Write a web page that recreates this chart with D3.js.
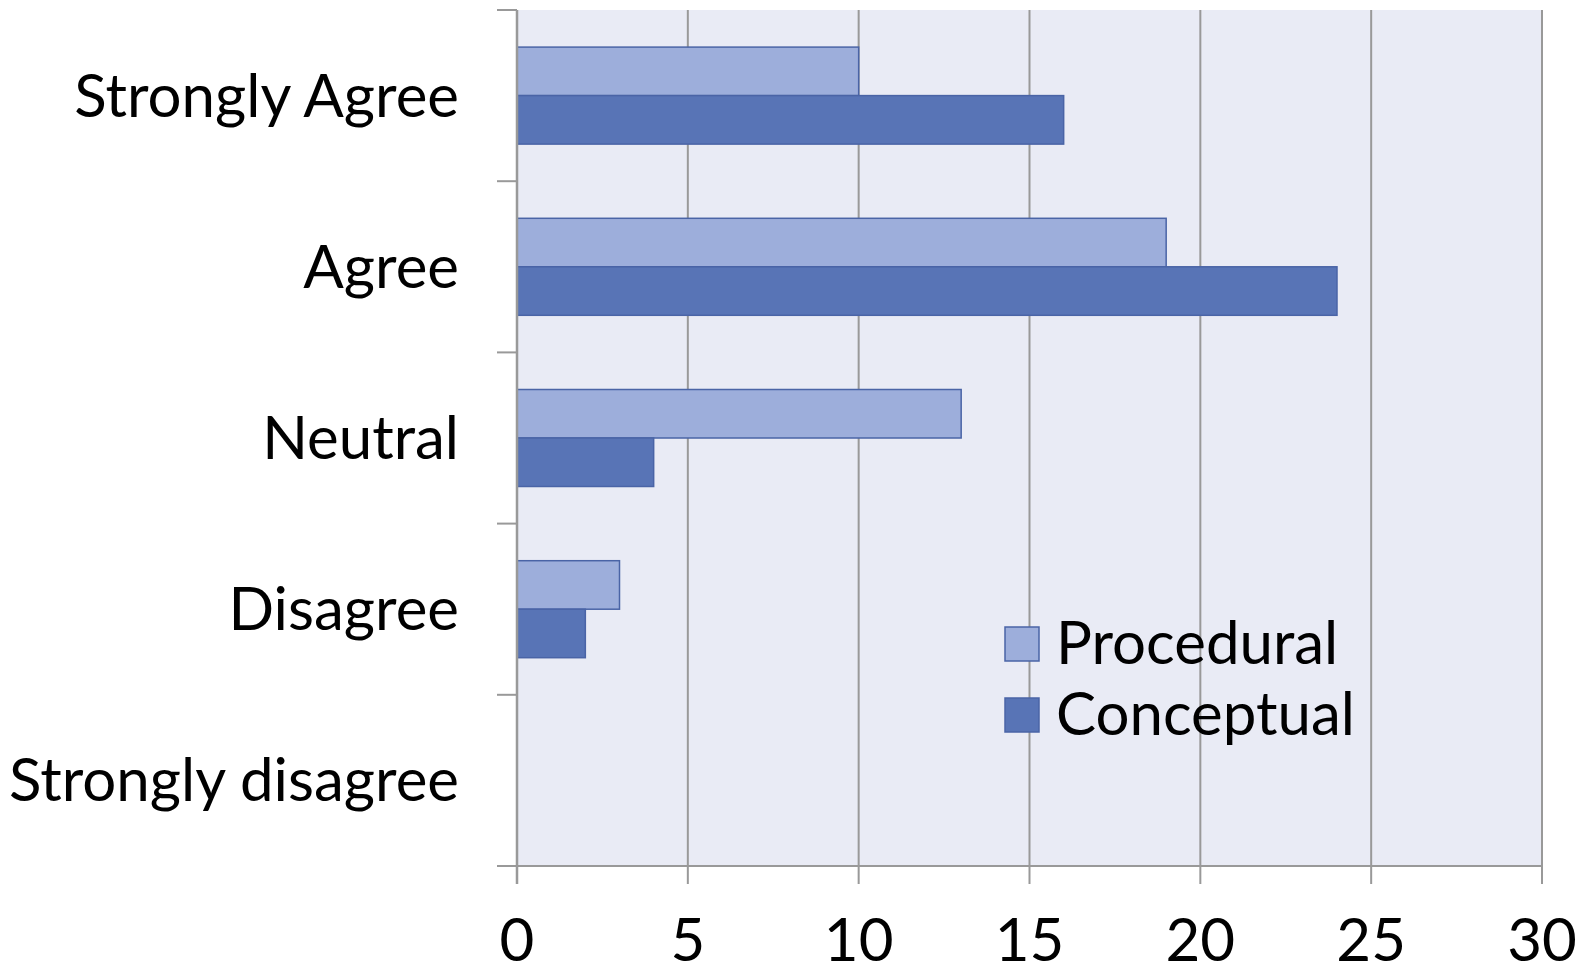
<!DOCTYPE html>
<html>
<head>
<meta charset="utf-8">
<script src="https://cdn.jsdelivr.net/npm/d3@7"></script>
<style>
  html, body { margin: 0; padding: 0; background: #fff; }
  svg { display: block; }
  text { font-family: "Lato", "Open Sans", sans-serif; fill: #000; }
</style>
</head>
<body>
<svg id="chart" width="1589" height="968"></svg>
<script>
const categories = ["Strongly Agree", "Agree", "Neutral", "Disagree", "Strongly disagree"];
const seriesNames = ["Procedural", "Conceptual"];
const procedural = [10, 19, 13, 3, 0];
const conceptual = [16, 24, 4, 2, 0];
const xTicks = [0, 5, 10, 15, 20, 25, 30];
const colors = { Procedural: "#9DAEDB", Conceptual: "#5874B6" };
const strokeColor = "#4A64A6";

const svg = d3.select("#chart");
const plotL = 517, plotR = 1542, plotT = 10, plotB = 866;

const x = d3.scaleLinear().domain([0, 30]).range([plotL, plotR]);
const y0 = d3.scaleBand().domain(categories).range([plotT, plotB]).padding(0);
const y1 = d3.scaleBand().domain(seriesNames).range([0, y0.bandwidth()]).paddingInner(0).paddingOuter(0.765);

// plot background
svg.append("rect").attr("x", plotL).attr("y", plotT)
  .attr("width", plotR - plotL).attr("height", plotB - plotT)
  .attr("fill", "#E9EBF5");

// vertical gridlines
svg.append("g").selectAll("line").data(xTicks).join("line")
  .attr("x1", d => x(d)).attr("x2", d => x(d))
  .attr("y1", plotT).attr("y2", plotB + 18)
  .attr("stroke", "#999").attr("stroke-width", 2);

// bottom axis line
svg.append("line").attr("x1", plotL - 20).attr("x2", plotR)
  .attr("y1", plotB).attr("y2", plotB)
  .attr("stroke", "#999").attr("stroke-width", 2);

// left tick marks at band boundaries
const bounds = categories.map(c => y0(c)).concat([plotB]);
svg.append("g").selectAll("line").data(bounds).join("line")
  .attr("x1", plotL - 20).attr("x2", plotL)
  .attr("y1", d => d).attr("y2", d => d)
  .attr("stroke", "#999").attr("stroke-width", 2);

// bars
const data = categories.map((c, i) => ({ cat: c, values: [
  { s: "Procedural", v: procedural[i] },
  { s: "Conceptual", v: conceptual[i] }
]}));

const groups = svg.append("g").selectAll("g").data(data).join("g")
  .attr("transform", d => `translate(0,${y0(d.cat)})`);
groups.selectAll("rect").data(d => d.values.filter(e => e.v > 0)).join("rect")
  .attr("x", x(0))
  .attr("y", d => y1(d.s))
  .attr("width", d => x(d.v) - x(0))
  .attr("height", y1.bandwidth())
  .attr("fill", d => colors[d.s])
  .attr("stroke", strokeColor).attr("stroke-width", 1.5);

// left axis line (over bars)
svg.append("line").attr("x1", plotL).attr("x2", plotL)
  .attr("y1", plotT).attr("y2", plotB + 18)
  .attr("stroke", "#999").attr("stroke-width", 2.5);

// category labels
svg.append("g").selectAll("text").data(categories).join("text")
  .attr("x", 459)
  .attr("y", d => y0(d) + y0.bandwidth() / 2 + 21)
  .attr("text-anchor", "end")
  .attr("font-size", 60)
  .text(d => d);

// x tick labels
svg.append("g").selectAll("text").data(xTicks).join("text")
  .attr("x", d => x(d))
  .attr("y", 961)
  .attr("text-anchor", "middle")
  .attr("font-size", 60)
  .text(d => d);

// legend
const legend = svg.append("g");
seriesNames.forEach((s, i) => {
  const cy = 644 + i * 71;
  legend.append("rect").attr("x", 1005).attr("y", cy - 17)
    .attr("width", 34).attr("height", 34)
    .attr("fill", colors[s]).attr("stroke", strokeColor).attr("stroke-width", 1.5);
  legend.append("text").attr("x", 1056).attr("y", cy + 20)
    .attr("font-size", 60).text(s);
});
</script>
</body>
</html>
